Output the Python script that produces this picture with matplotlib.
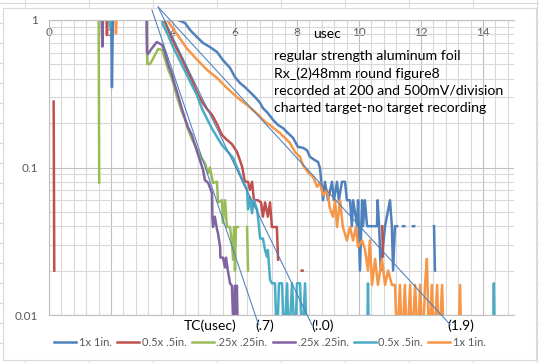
import numpy as np
import matplotlib.pyplot as plt
from matplotlib.lines import Line2D
from matplotlib.patches import Rectangle
from matplotlib.ticker import LogLocator, FuncFormatter, NullFormatter
import matplotlib.transforms as mtransforms

plt.rcParams['font.family'] = ['Lato', 'DejaVu Sans']

nan = np.nan

# (time usec, normalised amplitude); nan = break in the trace
blue_1x1 = [(2.00, 1.5), (2.03, 0.35), (2.07, 1.5), (4.00, 1.15), (4.16, 1.0), (4.39, 0.954),
            (4.55, 0.856), (4.77, 0.767), (4.97, 0.699), (5.19, 0.656), (5.42, 0.607), (5.61, 0.535),
            (5.84, 0.473), (6.00, 0.41), (6.16, 0.374), (6.32, 0.351), (6.48, 0.325), (6.65, 0.300),
            (6.81, 0.274), (6.90, 0.253), (7.06, 0.234), (7.23, 0.210), (7.39, 0.194), (7.55, 0.185),
            (7.71, 0.171), (7.87, 0.159), (8.03, 0.138), (8.19, 0.136), (8.32, 0.131), (8.42, 0.118),
            (8.58, 0.112), (8.68, 0.109), (8.74, 0.099), (8.84, 0.06), (8.90, 0.08), (9.00, 0.06),
            (9.13, 0.08), (9.19, 0.06), (9.29, 0.08), (9.35, 0.06), (9.45, 0.08), (9.55, 0.08),
            (9.61, 0.06), (9.71, 0.06), (9.77, 0.04), (9.81, 0.06), (9.94, 0.04), (9.97, 0.06),
            (10.03, 0.02), (10.10, 0.06), (10.13, 0.04), (10.19, 0.06), (10.26, 0.04), (10.42, 0.04),
            (10.58, 0.04), (10.60, 0.06), (10.65, 0.04), (10.70, 0.02), (10.84, 0.04), (11.00, 0.06),
            (11.06, 0.04), (11.10, 0.02), (11.16, 0.04), (11.23, 0.04), (nan, nan),
            (11.42, 0.04), (11.46, 0.04), (nan, nan), (11.74, 0.04), (11.78, 0.04), (nan, nan),
            (12.42, 0.04), (12.45, 0.02)]

red_05x05 = [(0.15, 0.28), (0.17, 0.02), (nan, nan),
             (1.84, 1.3), (1.87, 0.79), (1.90, 1.3), (3.65, 1.1), (3.74, 0.969), (3.97, 0.743),
             (4.13, 0.636), (4.29, 0.544), (4.45, 0.458), (4.61, 0.392), (4.77, 0.325), (4.94, 0.278),
             (5.10, 0.249), (5.26, 0.227), (5.42, 0.197), (5.58, 0.166), (5.74, 0.154), (5.90, 0.144),
             (6.06, 0.128), (6.16, 0.112), (6.23, 0.101), (6.32, 0.080), (6.42, 0.080), (6.48, 0.0705),
             (6.55, 0.080), (6.61, 0.060), (6.74, 0.060), (6.84, 0.058), (6.90, 0.0464), (6.97, 0.058),
             (7.06, 0.0464), (7.13, 0.058), (7.19, 0.0395), (7.35, 0.0395), (7.39, 0.0237), (nan, nan),
             (8.15, 0.02), (8.18, 0.02), (nan, nan), (10.75, 0.04), (10.77, 0.025)]

green_025x025 = [(1.59, 5.0), (1.62, 0.079), (nan, nan),
                 (3.14, 3.0), (3.17, 0.503), (3.26, 0.503), (3.35, 0.544), (3.52, 0.636), (3.65, 0.626),
                 (3.74, 0.544), (3.84, 0.465), (3.97, 0.398), (4.06, 0.341), (4.16, 0.287), (4.29, 0.238),
                 (4.39, 0.213), (4.48, 0.183), (4.61, 0.156), (4.71, 0.142), (4.81, 0.128), (4.94, 0.114),
                 (5.03, 0.107), (5.13, 0.0917), (5.19, 0.10), (5.29, 0.0786), (5.42, 0.08), (5.45, 0.058),
                 (5.58, 0.060), (5.61, 0.042), (5.68, 0.060), (5.74, 0.0395), (5.84, 0.0395), (5.90, 0.031),
                 (5.94, 0.0237), (5.97, 0.0395), (6.00, 0.020), (6.03, 0.0395), (6.10, 0.0395), (nan, nan),
                 (6.39, 0.0395), (6.42, 0.020)]

purple_025x025 = [(1.68, 1.5), (1.72, 0.66), (1.76, 1.5),
                  (3.13, 2.0), (3.16, 0.607), (3.19, 0.588), (3.35, 0.656), (3.48, 0.709), (3.65, 0.677),
                  (3.74, 0.607), (3.84, 0.503), (3.97, 0.424), (4.06, 0.362), (4.16, 0.310), (4.29, 0.249),
                  (4.39, 0.213), (4.48, 0.188), (4.61, 0.166), (4.71, 0.142), (4.81, 0.122), (4.87, 0.112),
                  (4.97, 0.096), (5.03, 0.082), (5.13, 0.079), (5.26, 0.067), (5.27, 0.046), (5.29, 0.0395),
                  (5.35, 0.0464), (5.42, 0.038), (5.45, 0.036), (5.52, 0.029), (5.53, 0.0245), (5.61, 0.0245),
                  (5.68, 0.021), (5.71, 0.0245), (5.77, 0.020), (5.84, 0.0164), (5.90, 0.0158), (5.97, 0.006),
                  (6.00, 0.0158), (6.03, 0.006), (6.06, 0.0158), (6.10, 0.006)]

aqua_05x05 = [(1.93, 1.2), (1.97, 0.9), (2.00, 1.2),
              (3.60, 1.1), (3.68, 0.925), (3.84, 0.791), (3.97, 0.677), (4.13, 0.579), (4.29, 0.495),
              (4.45, 0.424), (4.61, 0.362), (4.77, 0.310), (4.94, 0.249), (5.10, 0.213), (5.26, 0.183),
              (5.42, 0.161), (5.58, 0.142), (5.74, 0.130), (5.94, 0.116), (6.10, 0.096), (6.26, 0.080),
              (6.39, 0.0705), (6.42, 0.052), (6.48, 0.063), (6.55, 0.049), (6.61, 0.060), (6.71, 0.052),
              (6.74, 0.0464), (6.81, 0.033), (6.90, 0.033), (6.97, 0.0276), (7.03, 0.0248), (7.06, 0.0276),
              (7.13, 0.0174), (7.19, 0.0164), (7.29, 0.0164), (7.35, 0.006), (7.42, 0.0164), (7.52, 0.0164),
              (7.58, 0.006), (7.68, 0.0164), (7.74, 0.006), (7.84, 0.0164), (7.94, 0.006), (8.00, 0.0164),
              (8.10, 0.0164), (8.16, 0.006), (8.26, 0.0164), (8.32, 0.006), (10.26, 0.006), (10.29, 0.0164),
              (10.32, 0.006), (14.32, 0.006), (14.35, 0.0164), (14.38, 0.006)]

orange_1x1 = [(2.13, 1.3), (2.16, 0.81), (2.20, 1.3),
              (3.70, 1.1), (3.81, 1.0), (4.13, 0.80), (4.45, 0.640), (4.77, 0.540), (5.10, 0.458),
              (5.42, 0.405), (5.74, 0.346), (6.06, 0.300), (6.39, 0.265), (6.71, 0.232), (6.97, 0.204),
              (7.13, 0.194), (7.45, 0.171), (7.77, 0.147), (7.94, 0.127), (8.10, 0.118), (8.19, 0.104),
              (8.35, 0.093), (8.52, 0.086), (8.65, 0.074), (8.74, 0.079), (8.84, 0.065), (8.97, 0.0705),
              (9.06, 0.053), (9.16, 0.0464), (9.23, 0.060), (9.29, 0.0395), (9.39, 0.060), (9.48, 0.0395),
              (9.61, 0.032), (9.71, 0.0395), (9.81, 0.032), (9.90, 0.0395), (9.97, 0.029), (10.10, 0.032),
              (10.19, 0.028), (10.29, 0.020), (10.35, 0.032), (10.42, 0.016), (10.52, 0.024), (10.61, 0.016),
              (10.74, 0.024), (10.84, 0.016), (10.94, 0.020), (11.06, 0.016), (11.16, 0.016), (11.23, 0.006),
              (11.32, 0.016), (11.39, 0.006), (11.48, 0.016), (11.55, 0.006), (11.65, 0.016), (11.71, 0.006),
              (11.81, 0.016), (11.90, 0.006), (11.97, 0.016), (12.06, 0.006), (12.13, 0.016), (12.19, 0.024),
              (12.26, 0.006), (12.35, 0.016), (12.42, 0.006), (12.52, 0.016), (12.58, 0.006), (12.68, 0.016),
              (12.74, 0.006), (13.20, 0.006), (13.26, 0.016), (13.30, 0.006)]

series = [blue_1x1, red_05x05, green_025x025, purple_025x025, aqua_05x05, orange_1x1]
series_labels = ['1x 1in.', '0.5x .5in.', '.25x .25in.', '.25x .25in.', '0.5x .5in.', '1x 1in.']
series_colors = ['#4F81BD', '#C0504D', '#9BBB59', '#8064A2', '#4BACC6', '#F79646']

# exponential fits drawn over the traces: time constant, start time, start amplitude
fit_tc = [0.7, 1.0, 1.9]
fit_t0 = [3.32, 3.52, 3.52]
fit_y0 = [1.17, 1.225, 1.225]
fit_y_end = 0.0086
fit_labels = ['(.7)', '(!.0)', '(1.9)']
fit_label_x = [6.97, 8.84, 13.29]

notes = ['regular strength aluminum foil', 'Rx_(2)48mm round figure8',
         'recorded at 200 and 500mV/division', 'charted target-no target recording']

W, H = 539, 363
fig = plt.figure(figsize=(W / 100, H / 100), dpi=100)


def fx(px):
    return px / W


def fy(py):
    return 1 - py / H


# spreadsheet cells behind the chart
for px in range(25, W, 64):
    fig.add_artist(Line2D([fx(px), fx(px)], [0, 1], color='#DADADA', lw=0.8, zorder=-3))
for py in range(3, H, 20):
    fig.add_artist(Line2D([0, 1], [fy(py), fy(py)], color='#DADADA', lw=0.8, zorder=-3))
fig.add_artist(Rectangle((fx(3), fy(360)), fx(536) - fx(3), fy(8) - fy(360),
                         facecolor='white', edgecolor='#D9D9D9', lw=0.8, zorder=-2))

ax = fig.add_axes([fx(49), fy(315), fx(514) - fx(49), fy(20) - fy(315)])
ax.set_facecolor('none')
ax.set_yscale('log')
ax.set_xlim(0, 15)
ax.set_ylim(0.01, 1)

ax.set_xticks(np.arange(0, 15, 2))
ax.set_xticks(np.arange(0, 15, 0.4), minor=True)
ax.yaxis.set_major_locator(LogLocator(base=10))
ax.yaxis.set_minor_locator(LogLocator(base=10, subs=np.arange(2, 10)))
ax.yaxis.set_major_formatter(FuncFormatter(lambda v, p: f'{v:g}'))
ax.yaxis.set_minor_formatter(NullFormatter())
ax.grid(which='minor', color='#D9D9D9', lw=0.8)
ax.grid(which='major', color='#BFBFBF', lw=0.8)
ax.set_axisbelow(True)

ax.xaxis.tick_top()
ax.tick_params(axis='x', which='both', length=0, pad=-13, labelsize=8.5, labelcolor='#595959')
ax.tick_params(axis='y', which='both', length=0, pad=8, labelsize=8.5, labelcolor='#595959')
for side in ['top', 'left', 'bottom']:
    ax.spines[side].set_color('#BFBFBF')
    ax.spines[side].set_linewidth(0.8)
ax.spines['right'].set_visible(False)

handles = []
for data, color, label in zip(series, series_colors, series_labels):
    t, y = np.array(data).T
    line, = ax.plot(t, y, color=color, lw=1.8, label=label)
    handles.append(line)

for tc, t0, y0 in zip(fit_tc, fit_t0, fit_y0):
    t1 = t0 + tc * np.log(y0 / fit_y_end)
    ax.plot([t0, t1], [y0, fit_y_end], color='#4A7EBB', lw=0.75, clip_on=False, zorder=5)

blend = mtransforms.blended_transform_factory(ax.transData, ax.transAxes)
ax.text(5.19, -0.038, 'TC(usec)', transform=blend, ha='center', va='center', fontsize=10)
for x, lab in zip(fit_label_x, fit_labels):
    ax.text(x, -0.038, lab, transform=blend, ha='center', va='center', fontsize=10)

ax.text(8.97, 0.953, 'usec', transform=blend, ha='center', va='center', fontsize=10)
ax.text(7.26, 0.79, '\n'.join(notes), transform=blend, ha='left', va='center',
        fontsize=10.2, linespacing=1.5)

fig.legend(handles=handles, loc='center', bbox_to_anchor=(fx(270), fy(342)), ncol=6,
           frameon=False, fontsize=8, handlelength=2.0, columnspacing=0.45,
           handletextpad=0.25, labelcolor='#595959')

fig.savefig('out.png', dpi=100)
